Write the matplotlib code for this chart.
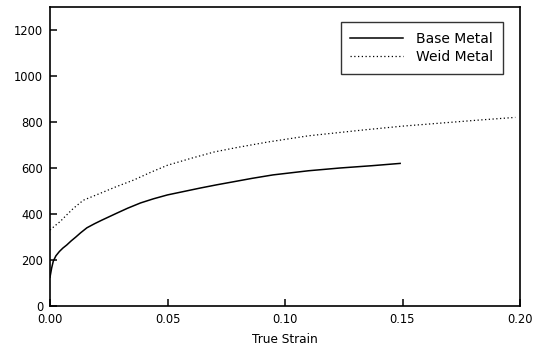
import matplotlib
matplotlib.use("Agg")
import matplotlib.pyplot as plt

plt.rcParams['font.family'] = ['DejaVu Sans']

base_strain = [0.0, 0.0007, 0.0014, 0.0025, 0.004, 0.0055, 0.0071, 0.009, 0.011, 0.013, 0.0157,
               0.019, 0.022, 0.0285, 0.033, 0.0385, 0.044, 0.05, 0.057,
               0.064, 0.071, 0.078, 0.086, 0.0949, 0.11, 0.1234, 0.137, 0.149]
base_stress = [125, 165, 195, 218, 237, 252, 265, 283, 300, 318, 340,
               358, 373, 404, 425, 448, 466, 483, 498,
               513, 527, 540, 555, 570, 588, 600, 610, 620]

weld_strain = [0.0, 0.002, 0.0043, 0.007, 0.01, 0.0142, 0.0214, 0.028, 0.0357, 0.043, 0.05,
               0.06, 0.07, 0.08, 0.0927, 0.11, 0.133, 0.15, 0.166, 0.182, 0.198]
weld_stress = [330, 348, 367, 395, 425, 460, 490, 518, 548, 582, 612,
               642, 670, 690, 713, 740, 765, 782, 795, 808, 820]

x_ticks = [0.00, 0.05, 0.10, 0.15, 0.20]
x_ticklabels = ["0.00", "0.05", "0.10", "0.15", "0.20"]
y_ticks = [0, 200, 400, 600, 800, 1000, 1200]

fig = plt.figure(figsize=(5.44, 3.55), dpi=100)
ax = fig.add_axes([50/544, 49/355, 470/544, 299/355])

ax.plot(base_strain, base_stress, color='black', lw=1.1, label='Base Metal')
ax.plot(weld_strain, weld_stress, color='black', lw=0.9, linestyle=(0, (1, 2)), label='Weid Metal')

ax.set_xlim(0, 0.20)
ax.set_ylim(0, 1300)
ax.set_xticks(x_ticks)
ax.set_xticklabels(x_ticklabels)
ax.set_yticks(y_ticks)
ax.tick_params(direction='in', length=5, width=1.1, labelsize=8.3, top=False, right=False)
ax.tick_params(axis='x', pad=5)
ax.tick_params(axis='y', pad=5)
for s in ax.spines.values():
    s.set_linewidth(1.2)

ax.set_xlabel('True Strain', fontsize=8.7, labelpad=5)

leg = ax.legend(loc='upper right', fontsize=10, frameon=True, fancybox=False,
                edgecolor='black', handlelength=3.8, borderpad=0.7,
                bbox_to_anchor=(0.964, 0.950), labelspacing=0.3, handletextpad=0.95,
                borderaxespad=0)
leg.get_frame().set_linewidth(1.0)

fig.savefig('out.png', dpi=100)
